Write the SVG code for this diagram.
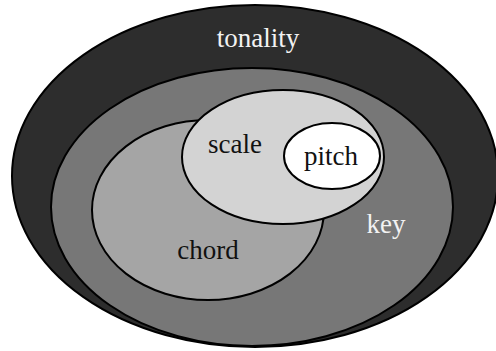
<svg xmlns="http://www.w3.org/2000/svg" width="496" height="351" viewBox="0 0 496 351">
  <style>
    .set { stroke: #000; stroke-width: 2; }
    .label { font-family: "Liberation Serif", "Times New Roman", serif; font-size: 27px; text-anchor: middle; }
    .light { fill: #f2f2f2; }
    .dark { fill: #111; }
  </style>
  <rect width="496" height="351" fill="#fff"/>
  <g id="tonality">
    <ellipse class="set" cx="255" cy="176" rx="243" ry="171" fill="#2d2d2d"/>
    <text class="label light" x="258" y="47">tonality</text>
  </g>
  <g id="key">
    <ellipse class="set" cx="252" cy="207" rx="201" ry="139" fill="#777"/>
    <text class="label light" x="386" y="233">key</text>
  </g>
  <g id="chord">
    <ellipse class="set" cx="208" cy="210" rx="116" ry="90" fill="#a5a5a5"/>
    <text class="label dark" x="208" y="259">chord</text>
  </g>
  <g id="scale">
    <ellipse class="set" cx="283" cy="157" rx="101" ry="67" fill="#d3d3d3"/>
    <text class="label dark" x="235" y="153">scale</text>
  </g>
  <g id="pitch">
    <ellipse class="set" cx="332" cy="156" rx="48" ry="33" fill="#fff"/>
    <text class="label dark" x="331" y="165">pitch</text>
  </g>
  <g id="connectors"/>
</svg>
